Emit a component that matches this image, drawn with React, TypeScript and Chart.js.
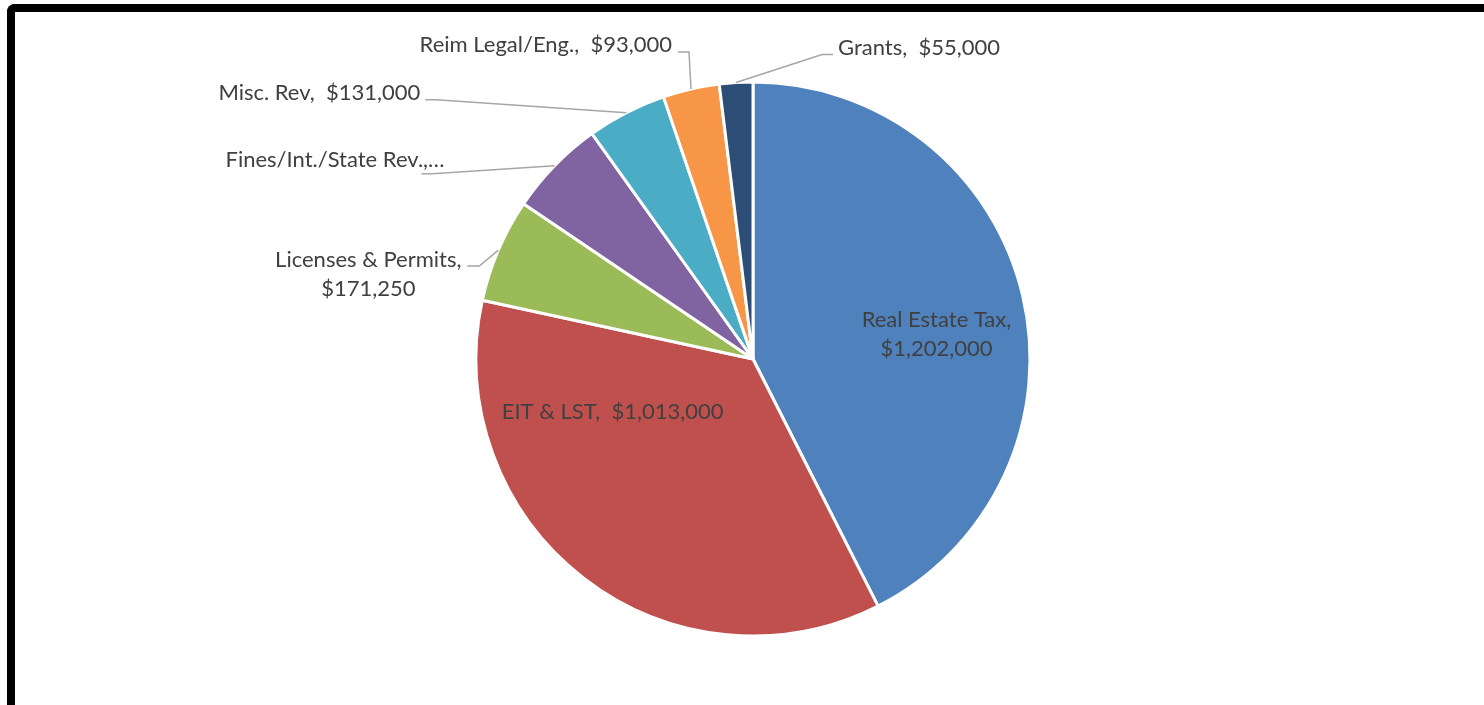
import React, { useEffect, useRef } from 'react';
import { Chart, registerables } from 'chart.js';

Chart.register(...registerables);

// ---- data ----
const categories: string[] = [
  'Real Estate Tax',
  'EIT & LST',
  'Licenses & Permits',
  'Fines/Int./State Rev.',
  'Misc. Rev',
  'Reim Legal/Eng.',
  'Grants',
];
const revenues: number[] = [1202000, 1013000, 171250, 160000, 131000, 93000, 55000];
const sliceColors: string[] = ['#4F81BD', '#C0504D', '#9BBB59', '#8064A2', '#4BACC6', '#F79646', '#2C4D75'];

// ---- label layout (offsets from the slice's outer-edge midpoint) ----
type LabelLayout = {
  dx: number;
  dy: number;
  align: CanvasTextAlign;
  twoLines?: boolean;
  truncate?: boolean;
  leader?: [number, number][];
};
const labelLayout: LabelLayout[] = [
  { dx: -86, dy: 40, align: 'center', twoLines: true },
  { dx: 29, dy: -166, align: 'center' },
  { dx: -130, dy: 24.5, align: 'center', twoLines: true, leader: [[-19, 16], [-31, 16]] },
  { dx: -110, dy: -6, align: 'right', truncate: true, leader: [[-122, 8], [-133, 8]] },
  { dx: -206, dy: -20, align: 'right', leader: [[-190, -13], [-201, -13]] },
  { dx: -19, dy: -44, align: 'right', leader: [[-2, -37], [-13, -37]] },
  { dx: 102, dy: -35, align: 'left', leader: [[86, -28], [97, -28]] },
];

const LABEL_FONT = '22px Lato, "Open Sans", sans-serif';
const LABEL_COLOR = '#404040';
const LINE_HEIGHT = 29;

const fmt = (v: number) => '$' + v.toLocaleString('en-US');

const labelPlugin = {
  id: 'sliceLabels',
  afterDatasetsDraw(chart: any) {
    const ctx: CanvasRenderingContext2D = chart.ctx;
    const meta = chart.getDatasetMeta(0);
    ctx.save();
    meta.data.forEach((arc: any, i: number) => {
      const { x, y, startAngle, endAngle, outerRadius } = arc.getProps(
        ['x', 'y', 'startAngle', 'endAngle', 'outerRadius'],
        true
      );
      const mid = (startAngle + endAngle) / 2;
      const ex = x + Math.cos(mid) * outerRadius;
      const ey = y + Math.sin(mid) * outerRadius;
      const L = labelLayout[i];
      if (L.leader) {
        ctx.strokeStyle = '#A6A6A6';
        ctx.lineWidth = 1.5;
        ctx.beginPath();
        ctx.moveTo(ex, ey);
        L.leader.forEach(([px, py]) => ctx.lineTo(ex + px, ey + py));
        ctx.stroke();
      }
      const name = categories[i];
      const val = fmt(revenues[i]);
      let lines: string[];
      if (L.truncate) lines = [name + ',\u2026'];
      else if (L.twoLines) lines = [name + ',', val];
      else lines = [name + ',  ' + val];
      ctx.font = LABEL_FONT;
      ctx.fillStyle = LABEL_COLOR;
      ctx.textAlign = L.align;
      ctx.textBaseline = 'middle';
      const cx = ex + L.dx;
      const cy = ey + L.dy;
      const top = cy - ((lines.length - 1) * LINE_HEIGHT) / 2;
      lines.forEach((t, k) => ctx.fillText(t, cx, top + k * LINE_HEIGHT));
    });
    ctx.restore();
  },
};

export default function App() {
  const ref = useRef<HTMLCanvasElement>(null);
  useEffect(() => {
    const chart = new Chart(ref.current as HTMLCanvasElement, {
      type: 'pie',
      data: {
        labels: categories,
        datasets: [
          {
            data: revenues,
            backgroundColor: sliceColors,
            borderColor: '#FFFFFF',
            borderWidth: 3,
          },
        ],
      },
      options: {
        animation: false,
        responsive: false,
        layout: { padding: { left: 474.5, right: 452.5, top: 80.5, bottom: 67.5 } },
        plugins: { legend: { display: false }, tooltip: { enabled: false } },
      },
      plugins: [labelPlugin],
    });
    return () => chart.destroy();
  }, []);
  return (
    <div
      style={{
        position: 'fixed',
        left: 0,
        top: 0,
        width: 1484,
        height: 705,
        overflow: 'hidden',
        background: '#FFFFFF',
      }}
    >
      <div
        style={{
          position: 'absolute',
          left: 7,
          top: 4,
          width: 1700,
          height: 900,
          borderTop: '8px solid #000',
          borderLeft: '8px solid #000',
          borderTopLeftRadius: 8,
          boxSizing: 'border-box',
        }}
      />
      <canvas ref={ref} width={1484} height={705} style={{ position: 'absolute', left: 0, top: 0 }} />
    </div>
  );
}
